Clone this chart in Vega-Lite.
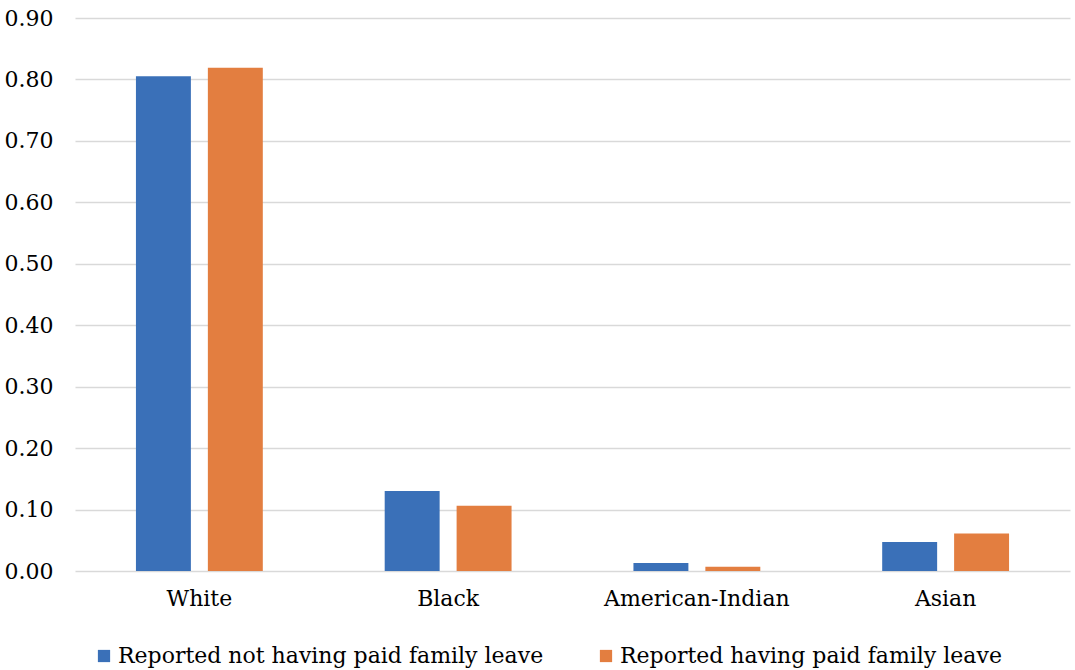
{
  "$schema": "https://vega.github.io/schema/vega-lite/v6.json",
  "width": 995,
  "height": 553,
  "autosize": {"type": "none"},
  "padding": {"left": 75, "top": 18, "right": 5, "bottom": 99},
  "background": "white",
  "config": {
    "view": {"stroke": null},
    "font": "DejaVu Serif"
  },
  "data": {
    "values": [
      {"race": "White", "group": "Reported not having paid family leave", "value": 0.805},
      {"race": "White", "group": "Reported having paid family leave", "value": 0.819},
      {"race": "Black", "group": "Reported not having paid family leave", "value": 0.130},
      {"race": "Black", "group": "Reported having paid family leave", "value": 0.106},
      {"race": "American-Indian", "group": "Reported not having paid family leave", "value": 0.013},
      {"race": "American-Indian", "group": "Reported having paid family leave", "value": 0.007},
      {"race": "Asian", "group": "Reported not having paid family leave", "value": 0.047},
      {"race": "Asian", "group": "Reported having paid family leave", "value": 0.061}
    ]
  },
  "mark": {"type": "bar"},
  "encoding": {
    "x": {
      "field": "race",
      "type": "nominal",
      "sort": ["White", "Black", "American-Indian", "Asian"],
      "scale": {"paddingInner": 0.49, "paddingOuter": 0.245},
      "axis": {
        "title": null,
        "labelAngle": 0,
        "labelFont": "DejaVu Serif",
        "labelFontSize": 22,
        "labelColor": "#000000",
        "labelPadding": 17,
        "labelLimit": 400,
        "ticks": false,
        "domain": false,
        "grid": false
      }
    },
    "xOffset": {
      "field": "group",
      "type": "nominal",
      "sort": ["Reported not having paid family leave", "Reported having paid family leave"],
      "scale": {"paddingInner": 0.236, "paddingOuter": 0}
    },
    "y": {
      "field": "value",
      "type": "quantitative",
      "scale": {"domain": [0, 0.9]},
      "axis": {
        "title": null,
        "values": [0, 0.1, 0.2, 0.3, 0.4, 0.5, 0.6, 0.7, 0.8, 0.9],
        "format": ".2f",
        "labelFont": "DejaVu Serif",
        "labelFontSize": 22,
        "labelColor": "#000000",
        "labelPadding": 22,
        "ticks": false,
        "domain": false,
        "grid": true,
        "gridColor": "#d9d9d9",
        "gridWidth": 1.5
      }
    },
    "color": {
      "field": "group",
      "type": "nominal",
      "sort": ["Reported not having paid family leave", "Reported having paid family leave"],
      "scale": {
        "domain": ["Reported not having paid family leave", "Reported having paid family leave"],
        "range": ["#3a70b8", "#e37e40"]
      },
      "legend": {
        "title": null,
        "orient": "none",
        "direction": "horizontal",
        "legendX": 18,
        "legendY": 627,
        "symbolType": "square",
        "symbolSize": 150,
        "symbolStrokeWidth": 0,
        "labelFont": "DejaVu Serif",
        "labelFontSize": 22,
        "labelColor": "#000000",
        "labelOffset": 3,
        "labelLimit": 700,
        "columnPadding": 51
      }
    }
  }
}
